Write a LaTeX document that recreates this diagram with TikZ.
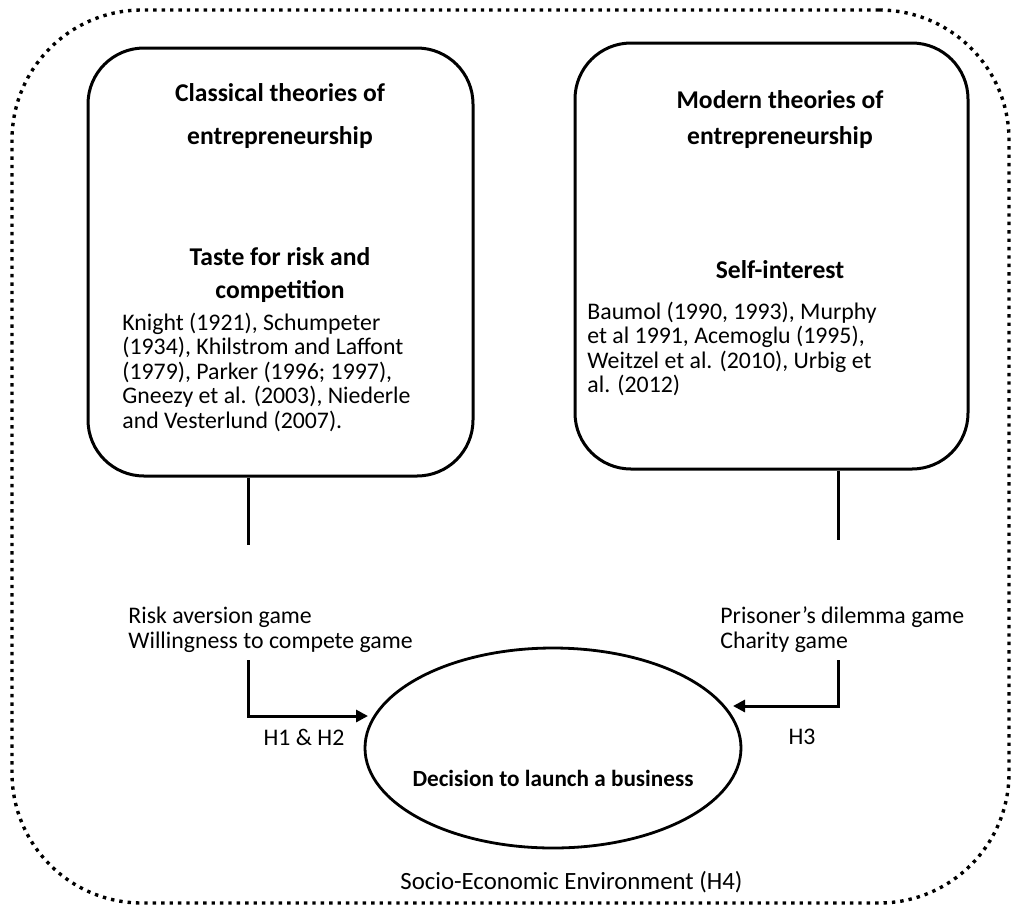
\documentclass[tikz,border=0pt]{standalone}
\usepackage{fontspec}
\setmainfont{Carlito}
\usetikzlibrary{shapes.geometric,arrows.meta}
\begin{document}
\begin{tikzpicture}[x=0.5pt,y=-0.5pt,
  body/.style={font=\fontsize{11.9}{12}\selectfont, inner sep=0pt, anchor=base west},
  head/.style={font=\fontsize{12.8}{13}\selectfont\bfseries, inner sep=0pt, anchor=base},
  theory/.style={draw, line width=1.5pt, rounded corners=28pt, rectangle, inner sep=0pt},
  conn/.style={line width=1.5pt},
  arr/.style={conn, -{Triangle[length=6pt,width=6pt]}},
  envbox/.style={draw, line width=1.7pt, dash pattern=on 1.7pt off 2.5pt, rounded corners=65pt, rectangle, inner sep=0pt}
]
\useasboundingbox (0,0) rectangle (1013,907);
% environment
\node[envbox, minimum width=498.5pt, minimum height=446.5pt] (env) at (510.5,456.5) {};
% theory boxes
\node[theory, minimum width=192.5pt, minimum height=214pt] (classical) at (280.5,262) {};
\node[theory, minimum width=196.5pt, minimum height=213pt] (modern) at (771.5,256) {};
% decision ellipse
\node[ellipse, draw, line width=1.4pt, minimum width=188pt, minimum height=100pt, inner sep=0pt] (dec) at (553,748) {};
\node[head, font=\fontsize{11.6}{12}\selectfont\bfseries] (dectext) at (553,786) {Decision to launch a business};
% left box text
\node[head] (c1) at (280,101) {Classical theories of};
\node[head] (c2) at (280,144) {entrepreneurship};
\node[head] (c3) at (280,265) {Taste for risk and};
\node[head] (c4) at (280,298) {competition};
\node[body] (k1) at (122,330) {Knight (1921), Schumpeter};
\node[body] (k2) at (122,354) {(1934), Khilstrom and Laffont};
\node[body] (k3) at (122,379) {(1979), Parker (1996; 1997),};
\node[body] (k4) at (122,403) {Gneezy et al. (2003), Niederle};
\node[body] (k5) at (122,428) {and Vesterlund (2007).};
% right box text
\node[head] (m1) at (780,108) {Modern theories of};
\node[head] (m2) at (780,144) {entrepreneurship};
\node[head] (m3) at (780,278) {Self-interest};
\node[body] (b1) at (587,319) {Baumol (1990, 1993), Murphy};
\node[body] (b2) at (587,343) {et al 1991, Acemoglu (1995),};
\node[body] (b3) at (587,368) {Weitzel et al. (2010), Urbig et};
\node[body] (b4) at (587,392) {al. (2012)};
% game labels
\node[body] (g1) at (128,623) {Risk aversion game};
\node[body] (g2) at (128,648) {Willingness to compete game};
\node[body] (g3) at (720,623) {Prisoner’s dilemma game};
\node[body] (g4) at (720,648) {Charity game};
% hypotheses
\node[body, anchor=base] (h12) at (304,745) {H1 \& H2};
\node[body, anchor=base] (h3) at (802,744) {H3};
\node[body, font=\fontsize{12.4}{13}\selectfont] (h4) at (400,889) {Socio-Economic Environment (H4)};
% connectors
\coordinate (l1) at (248,545);
\coordinate (l2) at (248,660);
\coordinate (ltip) at (368,716);
\coordinate (r1) at (838,540);
\coordinate (r2) at (838,660);
\coordinate (rtip) at (733,706);
\draw[conn] (classical.south -| l1) -- (l1);
\draw[arr] (l2) |- (ltip);
\draw[conn] (modern.south -| r1) -- (r1);
\draw[arr] (r2) |- (rtip);
\end{tikzpicture}
\end{document}
